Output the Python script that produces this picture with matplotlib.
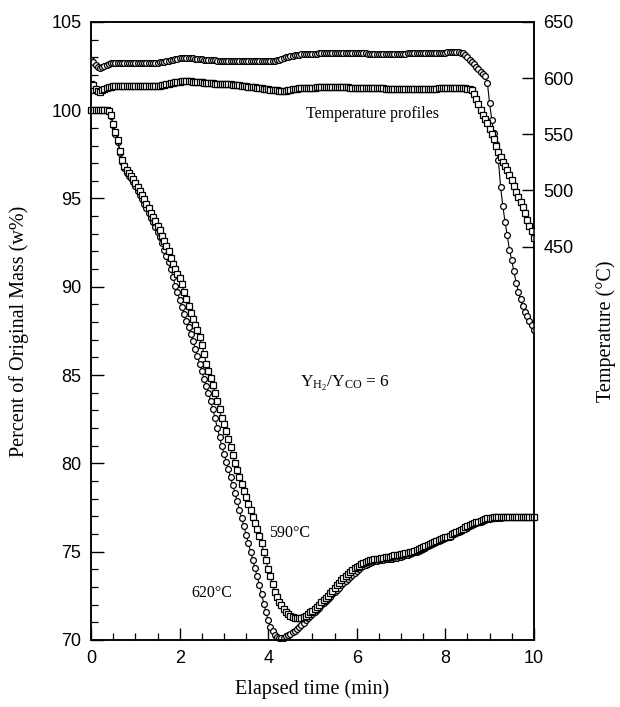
import matplotlib
matplotlib.use("Agg")
import matplotlib.pyplot as plt
import numpy as np
from matplotlib.ticker import MultipleLocator

# sampling grid of the balance log: one reading every 3 s
elapsed_min = np.arange(201) * 0.05

# mass (% of original), run at 620 C (circles)
mass_620 = [
    100.0, 100.0, 100.0, 100.0, 100.0, 100.0, 100.0, 100.0, 99.95, 99.65, 99.15, 98.65, 98.2, 97.55, 97.05, 96.7, 96.45, 96.3, 96.15, 95.95,
    95.7, 95.45, 95.2, 94.95, 94.7, 94.45, 94.15, 93.9, 93.65, 93.4, 93.1, 92.8, 92.45, 92.1, 91.75, 91.4, 91.0, 90.55, 90.05, 89.7,
    89.25, 88.85, 88.45, 88.05, 87.7, 87.35, 86.95, 86.5, 86.1, 85.65, 85.25, 84.8, 84.4, 84.0, 83.55, 83.05, 82.55, 82.0, 81.5, 81.0,
    80.55, 80.1, 79.65, 79.2, 78.75, 78.3, 77.85, 77.35, 76.9, 76.45, 75.95, 75.5, 75.0, 74.55, 74.05, 73.6, 73.1, 72.6, 72.05, 71.55,
    71.1, 70.75, 70.5, 70.3, 70.18, 70.1, 70.08, 70.12, 70.2, 70.28, 70.35, 70.42, 70.52, 70.62, 70.72, 70.85, 70.97, 71.1, 71.22, 71.34,
    71.45, 71.58, 71.7, 71.83, 71.95, 72.08, 72.2, 72.33, 72.45, 72.58, 72.7, 72.83, 72.95, 73.08, 73.2, 73.33, 73.45, 73.57, 73.7, 73.8,
    73.9, 74.0, 74.1, 74.18, 74.25, 74.3, 74.35, 74.4, 74.45, 74.48, 74.5, 74.52, 74.55, 74.57, 74.58, 74.6, 74.6, 74.62, 74.65, 74.68,
    74.7, 74.75, 74.8, 74.82, 74.85, 74.9, 74.95, 75.0, 75.05, 75.1, 75.15, 75.22, 75.3, 75.38, 75.45, 75.5, 75.55, 75.6, 75.65, 75.7,
    75.75, 75.8, 75.85, 75.92, 76.0, 76.05, 76.1, 76.18, 76.25, 76.3, 76.35, 76.42, 76.5, 76.55, 76.6, 76.65, 76.7, 76.75, 76.8, 76.82,
    76.85, 76.88, 76.9, 76.9, 76.9, 76.92, 76.95, 76.95, 76.95, 76.95, 76.95, 76.95, 76.95, 76.95, 76.95, 76.95, 76.95, 76.95, 76.95, 76.95,
    76.95,
]

# mass (% of original), run at 590 C (squares)
mass_590 = [
    100.0, 100.0, 100.0, 100.0, 100.0, 100.0, 100.0, 100.0, 99.95, 99.7, 99.2, 98.75, 98.3, 97.7, 97.2, 96.85, 96.6, 96.45, 96.3, 96.1,
    95.9, 95.65, 95.45, 95.2, 94.95, 94.7, 94.45, 94.2, 93.95, 93.7, 93.45, 93.2, 92.9, 92.6, 92.3, 92.0, 91.65, 91.3, 91.0, 90.7,
    90.5, 90.15, 89.7, 89.3, 88.9, 88.5, 88.2, 87.85, 87.55, 87.15, 86.7, 86.2, 85.65, 85.25, 84.85, 84.45, 84.0, 83.55, 83.05, 82.55,
    82.2, 81.85, 81.4, 80.95, 80.45, 80.0, 79.6, 79.2, 78.8, 78.45, 78.1, 77.7, 77.35, 76.95, 76.6, 76.25, 75.9, 75.5, 74.95, 74.5,
    74.0, 73.6, 73.15, 72.7, 72.4, 72.15, 71.95, 71.75, 71.58, 71.45, 71.35, 71.28, 71.25, 71.23, 71.23, 71.26, 71.3, 71.36, 71.45, 71.55,
    71.65, 71.75, 71.88, 72.0, 72.12, 72.25, 72.38, 72.5, 72.64, 72.78, 72.93, 73.08, 73.22, 73.37, 73.5, 73.63, 73.75, 73.85, 73.95, 74.05,
    74.12, 74.2, 74.27, 74.34, 74.4, 74.46, 74.52, 74.55, 74.57, 74.59, 74.6, 74.62, 74.65, 74.68, 74.7, 74.72, 74.75, 74.78, 74.8, 74.82,
    74.85, 74.88, 74.9, 74.93, 74.96, 75.0, 75.05, 75.1, 75.15, 75.2, 75.26, 75.32, 75.38, 75.44, 75.5, 75.55, 75.6, 75.65, 75.7, 75.75,
    75.8, 75.85, 75.9, 75.97, 76.05, 76.1, 76.15, 76.22, 76.3, 76.37, 76.45, 76.5, 76.55, 76.6, 76.65, 76.7, 76.75, 76.8, 76.85, 76.88,
    76.9, 76.92, 76.95, 76.95, 76.95, 76.95, 76.95, 76.95, 76.95, 76.95, 76.95, 76.95, 76.95, 76.95, 76.95, 76.95, 76.95, 76.95, 76.95, 76.95,
    76.95,
]

# furnace temperature (C), 620 C run (circles)
temp_620 = [
    616.0, 614.0, 611.5, 609.5, 609.0, 609.5, 611.0, 612.0, 612.8, 613.2, 613.4, 613.5, 613.5, 613.5, 613.5, 613.5, 613.5, 613.5, 613.5, 613.5,
    613.5, 613.5, 613.5, 613.5, 613.5, 613.5, 613.5, 613.5, 613.5, 613.5, 613.7, 613.9, 614.2, 614.6, 615.0, 615.5, 616.0, 616.5, 617.0, 617.3,
    617.5, 617.7, 617.8, 617.8, 617.8, 617.7, 617.5, 617.3, 617.1, 616.9, 616.7, 616.5, 616.3, 616.1, 615.9, 615.8, 615.7, 615.6, 615.5, 615.4,
    615.3, 615.2, 615.2, 615.1, 615.1, 615.0, 615.0, 615.0, 615.0, 615.0, 615.0, 615.0, 615.0, 615.0, 615.0, 615.0, 615.0, 615.0, 615.0, 615.0,
    615.0, 615.0, 615.1, 615.3, 615.7, 616.3, 617.0, 617.8, 618.5, 619.1, 619.6, 620.0, 620.3, 620.6, 620.8, 621.0, 621.2, 621.3, 621.4, 621.5,
    621.6, 621.7, 621.8, 621.9, 622.0, 622.1, 622.2, 622.2, 622.3, 622.4, 622.4, 622.5, 622.5, 622.5, 622.5, 622.4, 622.4, 622.3, 622.3, 622.2,
    622.2, 622.1, 622.0, 622.0, 621.9, 621.8, 621.8, 621.7, 621.7, 621.6, 621.6, 621.5, 621.5, 621.5, 621.5, 621.5, 621.5, 621.6, 621.6, 621.7,
    621.7, 621.8, 621.8, 621.9, 621.9, 622.0, 622.0, 622.1, 622.1, 622.2, 622.2, 622.3, 622.3, 622.4, 622.4, 622.5, 622.5, 622.6, 622.6, 622.7,
    622.7, 622.8, 622.8, 622.8, 622.8, 622.8, 622.8, 622.7, 622.3, 620.5, 618.5, 616.5, 614.5, 612.5, 610.0, 607.8, 605.5, 603.5, 601.8, 596.0,
    578.0, 563.0, 551.0, 541.0, 527.0, 503.0, 486.0, 472.0, 460.0, 447.0, 438.0, 428.0, 418.0, 410.0, 403.0, 397.0, 392.0, 388.0, 384.0, 380.0,
    376.0,
]

# furnace temperature (C), 590 C run (squares)
temp_590 = [
    595.0, 593.5, 590.5, 588.3, 588.0, 589.0, 590.5, 591.5, 592.0, 592.4, 592.6, 592.7, 592.7, 592.7, 592.7, 592.7, 592.7, 592.7, 592.7, 592.7,
    592.7, 592.7, 592.7, 592.7, 592.7, 592.7, 592.7, 592.7, 592.7, 592.7, 592.9, 593.2, 593.6, 594.1, 594.6, 595.1, 595.6, 596.0, 596.4, 596.7,
    596.9, 597.0, 597.1, 597.1, 597.1, 597.0, 596.9, 596.8, 596.6, 596.4, 596.2, 596.0, 595.8, 595.6, 595.4, 595.3, 595.1, 595.0, 594.8, 594.7,
    594.6, 594.5, 594.4, 594.3, 594.1, 594.0, 593.8, 593.6, 593.4, 593.1, 592.8, 592.5, 592.3, 592.0, 591.8, 591.5, 591.2, 590.9, 590.6, 590.3,
    590.0, 589.7, 589.4, 589.2, 589.0, 588.9, 588.8, 588.8, 588.9, 589.2, 589.6, 590.0, 590.4, 590.7, 591.0, 591.2, 591.3, 591.4, 591.5, 591.5,
    591.6, 591.6, 591.7, 591.7, 591.7, 591.8, 591.8, 591.8, 591.8, 591.8, 591.8, 591.8, 591.8, 591.7, 591.7, 591.7, 591.7, 591.6, 591.6, 591.6,
    591.6, 591.5, 591.5, 591.5, 591.4, 591.4, 591.3, 591.3, 591.2, 591.1, 591.0, 590.9, 590.8, 590.7, 590.6, 590.5, 590.4, 590.3, 590.3, 590.2,
    590.2, 590.1, 590.1, 590.1, 590.2, 590.2, 590.3, 590.3, 590.4, 590.4, 590.5, 590.5, 590.6, 590.6, 590.7, 590.7, 590.7, 590.8, 590.8, 590.8,
    590.8, 590.8, 590.8, 590.8, 590.8, 590.8, 590.8, 590.8, 590.8, 590.8, 590.7, 590.3, 589.5, 586.0, 581.5, 577.0, 572.0, 567.5, 563.6, 560.0,
    555.0, 550.0, 545.5, 540.0, 534.0, 529.5, 525.6, 521.5, 518.0, 513.5, 509.0, 504.0, 499.0, 494.5, 489.5, 485.0, 480.0, 473.5, 468.5, 463.5,
    458.0,
]

temp_ticks = [450, 500, 550, 600, 650]

plt.rcParams["mathtext.fontset"] = "custom"
plt.rcParams["mathtext.rm"] = "Liberation Serif"
plt.rcParams["mathtext.it"] = "Liberation Serif:italic"

sans = "Liberation Sans"
serif = "Liberation Serif"

fig = plt.figure(figsize=(6.2, 7.07), dpi=100)
ax = fig.add_axes([0.147, 0.095, 0.714, 0.874])
ax2 = ax.twinx()

style = dict(color="black", lw=0.8, markersize=4.2, markerfacecolor="white",
             markeredgecolor="black", markeredgewidth=0.9)
ax.plot(elapsed_min, mass_620, marker="o", clip_on=False, **style)
ax.plot(elapsed_min, mass_590, marker="s", clip_on=False, **style)
ax2.plot(elapsed_min, temp_620, marker="o", **style)
ax2.plot(elapsed_min, temp_590, marker="s", **style)

ax.set_xlim(0, 10)
ax.set_ylim(70, 105)
ax2.set_ylim(100, 650)

ax.xaxis.set_major_locator(MultipleLocator(2))
ax.xaxis.set_minor_locator(MultipleLocator(0.5))
ax.yaxis.set_major_locator(MultipleLocator(5))
ax.yaxis.set_minor_locator(MultipleLocator(1))
ax2.set_yticks(temp_ticks)

ax.tick_params(which="major", direction="in", length=9, width=1, top=False, right=False,
               labelsize=13, pad=7)
ax.tick_params(which="minor", direction="in", length=5, width=0.9, top=False, right=False)
ax2.tick_params(which="major", direction="in", length=9, width=1, labelsize=13, pad=7)
for lab in ax.get_xticklabels() + ax.get_yticklabels() + ax2.get_yticklabels():
    lab.set_fontfamily(sans)

for sp in list(ax.spines.values()) + list(ax2.spines.values()):
    sp.set_linewidth(1.1)

ax.set_xlabel("Elapsed time (min)", fontfamily=serif, fontsize=14.5)
ax.set_ylabel("Percent of Original Mass (w%)", fontfamily=serif, fontsize=14.5)
ax2.set_ylabel("Temperature (\u00b0C)", fontfamily=serif, fontsize=14.5)
ax.xaxis.set_label_coords(0.5, -0.064)
ax.yaxis.set_label_coords(-0.14, 0.5)
ax2.yaxis.set_label_coords(1.14, 0.5)

ax.text(6.36, 99.8, "Temperature profiles", fontfamily=serif, fontsize=11.5,
        ha="center", va="center")
ax.text(5.74, 84.5, r"$\mathrm{Y_{H_2}/Y_{CO}}$ = 6", fontfamily=serif, fontsize=12.5,
        ha="center", va="center")
ax.text(4.48, 76.05, "590\u00b0C", fontfamily=serif, fontsize=11.5, ha="center", va="center")
ax.text(2.72, 72.65, "620\u00b0C", fontfamily=serif, fontsize=11.5, ha="center", va="center")

fig.savefig("out.png", dpi=100)
